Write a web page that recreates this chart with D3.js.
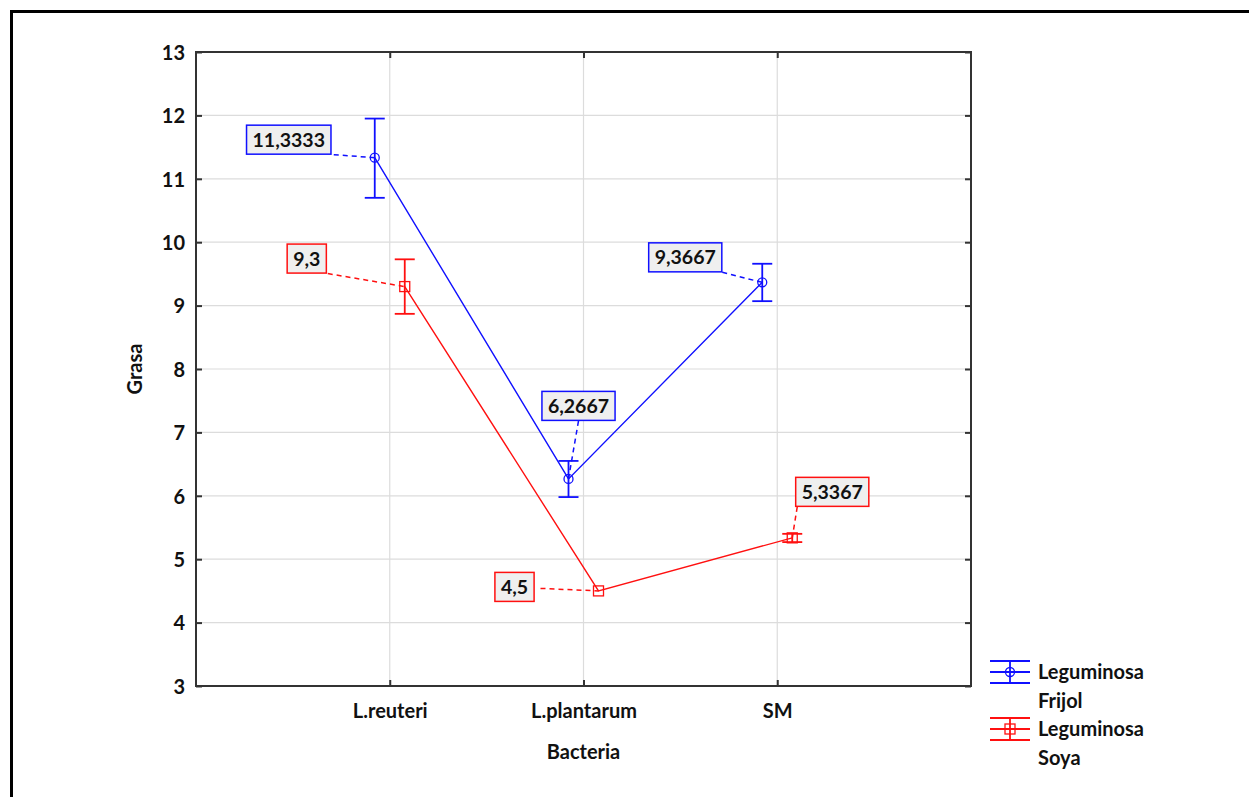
<!DOCTYPE html>
<html>
<head>
<meta charset="utf-8">
<script src="https://cdn.jsdelivr.net/npm/d3@7"></script>
<style>
  body { margin: 0; background: #fff; }
  svg text { font-family: Lato, "Open Sans", sans-serif; font-weight: bold; fill: #111; }
</style>
</head>
<body>
<div id="chart"></div>
<script>
// --- data ---
const categories = ["L.reuteri", "L.plantarum", "SM"];
const yTicks = [3, 4, 5, 6, 7, 8, 9, 10, 11, 12, 13];
const frijolMeans = [11.3333, 6.2667, 9.3667];
const frijolLow = [10.70, 5.98, 9.07];
const frijolHigh = [11.95, 6.55, 9.66];
const soyaMeans = [9.3, 4.5, 5.3367];
const soyaLow = [8.87, 4.5, 5.27];
const soyaHigh = [9.73, 4.5, 5.40];
const frijolLabels = ["11,3333", "6,2667", "9,3667"];
const soyaLabels = ["9,3", "4,5", "5,3367"];

// label box placement (offset of box centre from the marker) and leader start (from box centre)
const frijolBoxOff = [[-86, -18], [10, -73], [-77, -25]];
const frijolLeadOff = [[45, 15], [0, 15], [37, 15]];
const soyaBoxOff = [[-98, -28], [-84, -4], [40, -46]];
const soyaLeadOff = [[21, 15], [26, 1.5], [-35, 15]];

const W = 1249, H = 797;
const plot = { left: 196, right: 971, top: 52, bottom: 686 };

const svg = d3.select("#chart").append("svg")
    .attr("width", W)
    .attr("height", H);

// outer frame (runs off the right and bottom edges)
svg.append("rect")
    .attr("x", 11.5).attr("y", 11.5)
    .attr("width", W + 20).attr("height", H + 20)
    .style("fill", "none").style("stroke", "#000").style("stroke-width", 3);

const x = d3.scalePoint()
    .domain(categories)
    .range([plot.left, plot.right])
    .padding(1);

const y = d3.scaleLinear()
    .domain([3, 13])
    .range([plot.bottom, plot.top]);

// --- gridlines ---
svg.append("g")
    .selectAll("line.hg")
    .data(yTicks.slice(1, -1))
    .join("line")
    .attr("x1", plot.left).attr("x2", plot.right)
    .attr("y1", d => y(d)).attr("y2", d => y(d))
    .style("stroke", "#dcdcdc").style("stroke-width", 1.2);

svg.append("g")
    .selectAll("line.vg")
    .data(categories)
    .join("line")
    .attr("x1", d => x(d)).attr("x2", d => x(d))
    .attr("y1", plot.top).attr("y2", plot.bottom)
    .style("stroke", "#dcdcdc").style("stroke-width", 1.2);

// --- axes (inward ticks on all four sides) ---
const axisStyle = g => {
  g.select(".domain").remove();
  g.selectAll(".tick line").style("stroke", "#333").style("stroke-width", 2);
};

svg.append("g")
    .attr("transform", `translate(${plot.left},0)`)
    .call(d3.axisLeft(y).tickValues(yTicks).tickSizeInner(-6).tickPadding(11).tickFormat(d3.format("d")))
    .call(axisStyle)
    .call(g => g.selectAll(".tick text").style("font-size", "20px").attr("dy", "0.36em").style("font-family", "Lato, sans-serif"));

svg.append("g")
    .attr("transform", `translate(${plot.right},0)`)
    .call(d3.axisRight(y).tickValues(yTicks).tickSizeInner(-6).tickFormat(""))
    .call(axisStyle);

svg.append("g")
    .attr("transform", `translate(0,${plot.bottom})`)
    .call(d3.axisBottom(x).tickSizeInner(-6).tickPadding(18))
    .call(axisStyle)
    .call(g => g.selectAll(".tick text").style("font-size", "20px").style("font-family", "Lato, sans-serif"));

svg.append("g")
    .attr("transform", `translate(0,${plot.top})`)
    .call(d3.axisTop(x).tickSizeInner(-6).tickFormat(""))
    .call(axisStyle);

svg.append("rect")
    .attr("x", plot.left).attr("y", plot.top)
    .attr("width", plot.right - plot.left).attr("height", plot.bottom - plot.top)
    .style("fill", "none").style("stroke", "#333").style("stroke-width", 2);

// --- axis titles ---
svg.append("text")
    .attr("x", (plot.left + plot.right) / 2)
    .attr("y", 759)
    .style("text-anchor", "middle")
    .style("font-size", "20px")
    .text("Bacteria");

svg.append("text")
    .attr("transform", `translate(142,${(plot.top + plot.bottom) / 2}) rotate(-90)`)
    .style("text-anchor", "middle")
    .style("font-size", "20px")
    .text("Grasa");

// --- series ---
const series = [
  { name: ["Leguminosa", "Frijol"], color: "#1010ff", dodge: -15, shape: "circle",
    means: frijolMeans, low: frijolLow, high: frijolHigh, labels: frijolLabels,
    boxOff: frijolBoxOff, leadOff: frijolLeadOff },
  { name: ["Leguminosa", "Soya"], color: "#ff1010", dodge: 15, shape: "square",
    means: soyaMeans, low: soyaLow, high: soyaHigh, labels: soyaLabels,
    boxOff: soyaBoxOff, leadOff: soyaLeadOff }
];

const capW = 10;

function drawMarker(g, cx, cy, s) {
  if (s.shape === "circle") {
    g.append("circle").attr("cx", cx).attr("cy", cy).attr("r", 4.5)
        .style("fill", "none").style("stroke", s.color).style("stroke-width", 1.3);
  } else {
    g.append("rect").attr("x", cx - 5).attr("y", cy - 5).attr("width", 10).attr("height", 10)
        .style("fill", "none").style("stroke", s.color).style("stroke-width", 1.3);
  }
}

series.forEach(s => {
  const pts = categories.map((c, i) => ({ c, i, v: s.means[i], lo: s.low[i], hi: s.high[i] }));
  const px = d => x(d.c) + s.dodge;
  const g = svg.append("g");

  g.append("path")
      .datum(pts)
      .attr("d", d3.line().x(px).y(d => y(d.v)))
      .style("fill", "none").style("stroke", s.color).style("stroke-width", 1.4);

  // error bars
  pts.forEach(d => {
    if (d.hi - d.lo <= 0) return;
    const cx = px(d);
    g.append("line").attr("x1", cx).attr("x2", cx).attr("y1", y(d.hi)).attr("y2", y(d.lo))
        .style("stroke", s.color).style("stroke-width", 1.8);
    [d.hi, d.lo].forEach(v => {
      g.append("line").attr("x1", cx - capW).attr("x2", cx + capW).attr("y1", y(v)).attr("y2", y(v))
          .style("stroke", s.color).style("stroke-width", 1.8);
    });
  });

  pts.forEach(d => drawMarker(g, px(d), y(d.v), s));

  // value labels with dashed leaders
  pts.forEach(d => {
    const mx = px(d), my = y(d.v);
    const bx = mx + s.boxOff[d.i][0], by = my + s.boxOff[d.i][1];
    const lx = bx + s.leadOff[d.i][0], ly = by + s.leadOff[d.i][1];
    g.append("line").attr("x1", lx).attr("y1", ly).attr("x2", mx).attr("y2", my)
        .style("stroke", s.color).style("stroke-width", 1.5).style("stroke-dasharray", "5,4");
    const t = g.append("text")
        .attr("x", bx).attr("y", by)
        .attr("dy", "0.36em")
        .style("text-anchor", "middle")
        .style("font-size", "19.5px")
        .text(s.labels[d.i]);
    const bb = t.node().getBBox();
    g.insert("rect", "text")
        .attr("x", bx - bb.width / 2 - 6).attr("y", by - 14.5)
        .attr("width", bb.width + 12).attr("height", 29)
        .style("fill", "#efefef").style("stroke", s.color).style("stroke-width", 1.5);
    t.raise();
  });
});

// --- legend ---
const legend = svg.append("g");
series.forEach((s, k) => {
  const cy = 672 + k * 57;
  const lg = legend.append("g");
  [-11, 0, 11].forEach(dy => {
    lg.append("line").attr("x1", 990).attr("x2", 1030).attr("y1", cy + dy).attr("y2", cy + dy)
        .style("stroke", s.color).style("stroke-width", 1.8);
  });
  lg.append("line").attr("x1", 1010).attr("x2", 1010).attr("y1", cy - 11).attr("y2", cy + 11)
      .style("stroke", s.color).style("stroke-width", 1.8);
  drawMarker(lg, 1010, cy, s);
  s.name.forEach((line, j) => {
    lg.append("text")
        .attr("x", 1038).attr("y", cy + j * 29)
        .attr("dy", "0.36em")
        .style("font-size", "20px")
        .text(line);
  });
});
</script>
</body>
</html>
